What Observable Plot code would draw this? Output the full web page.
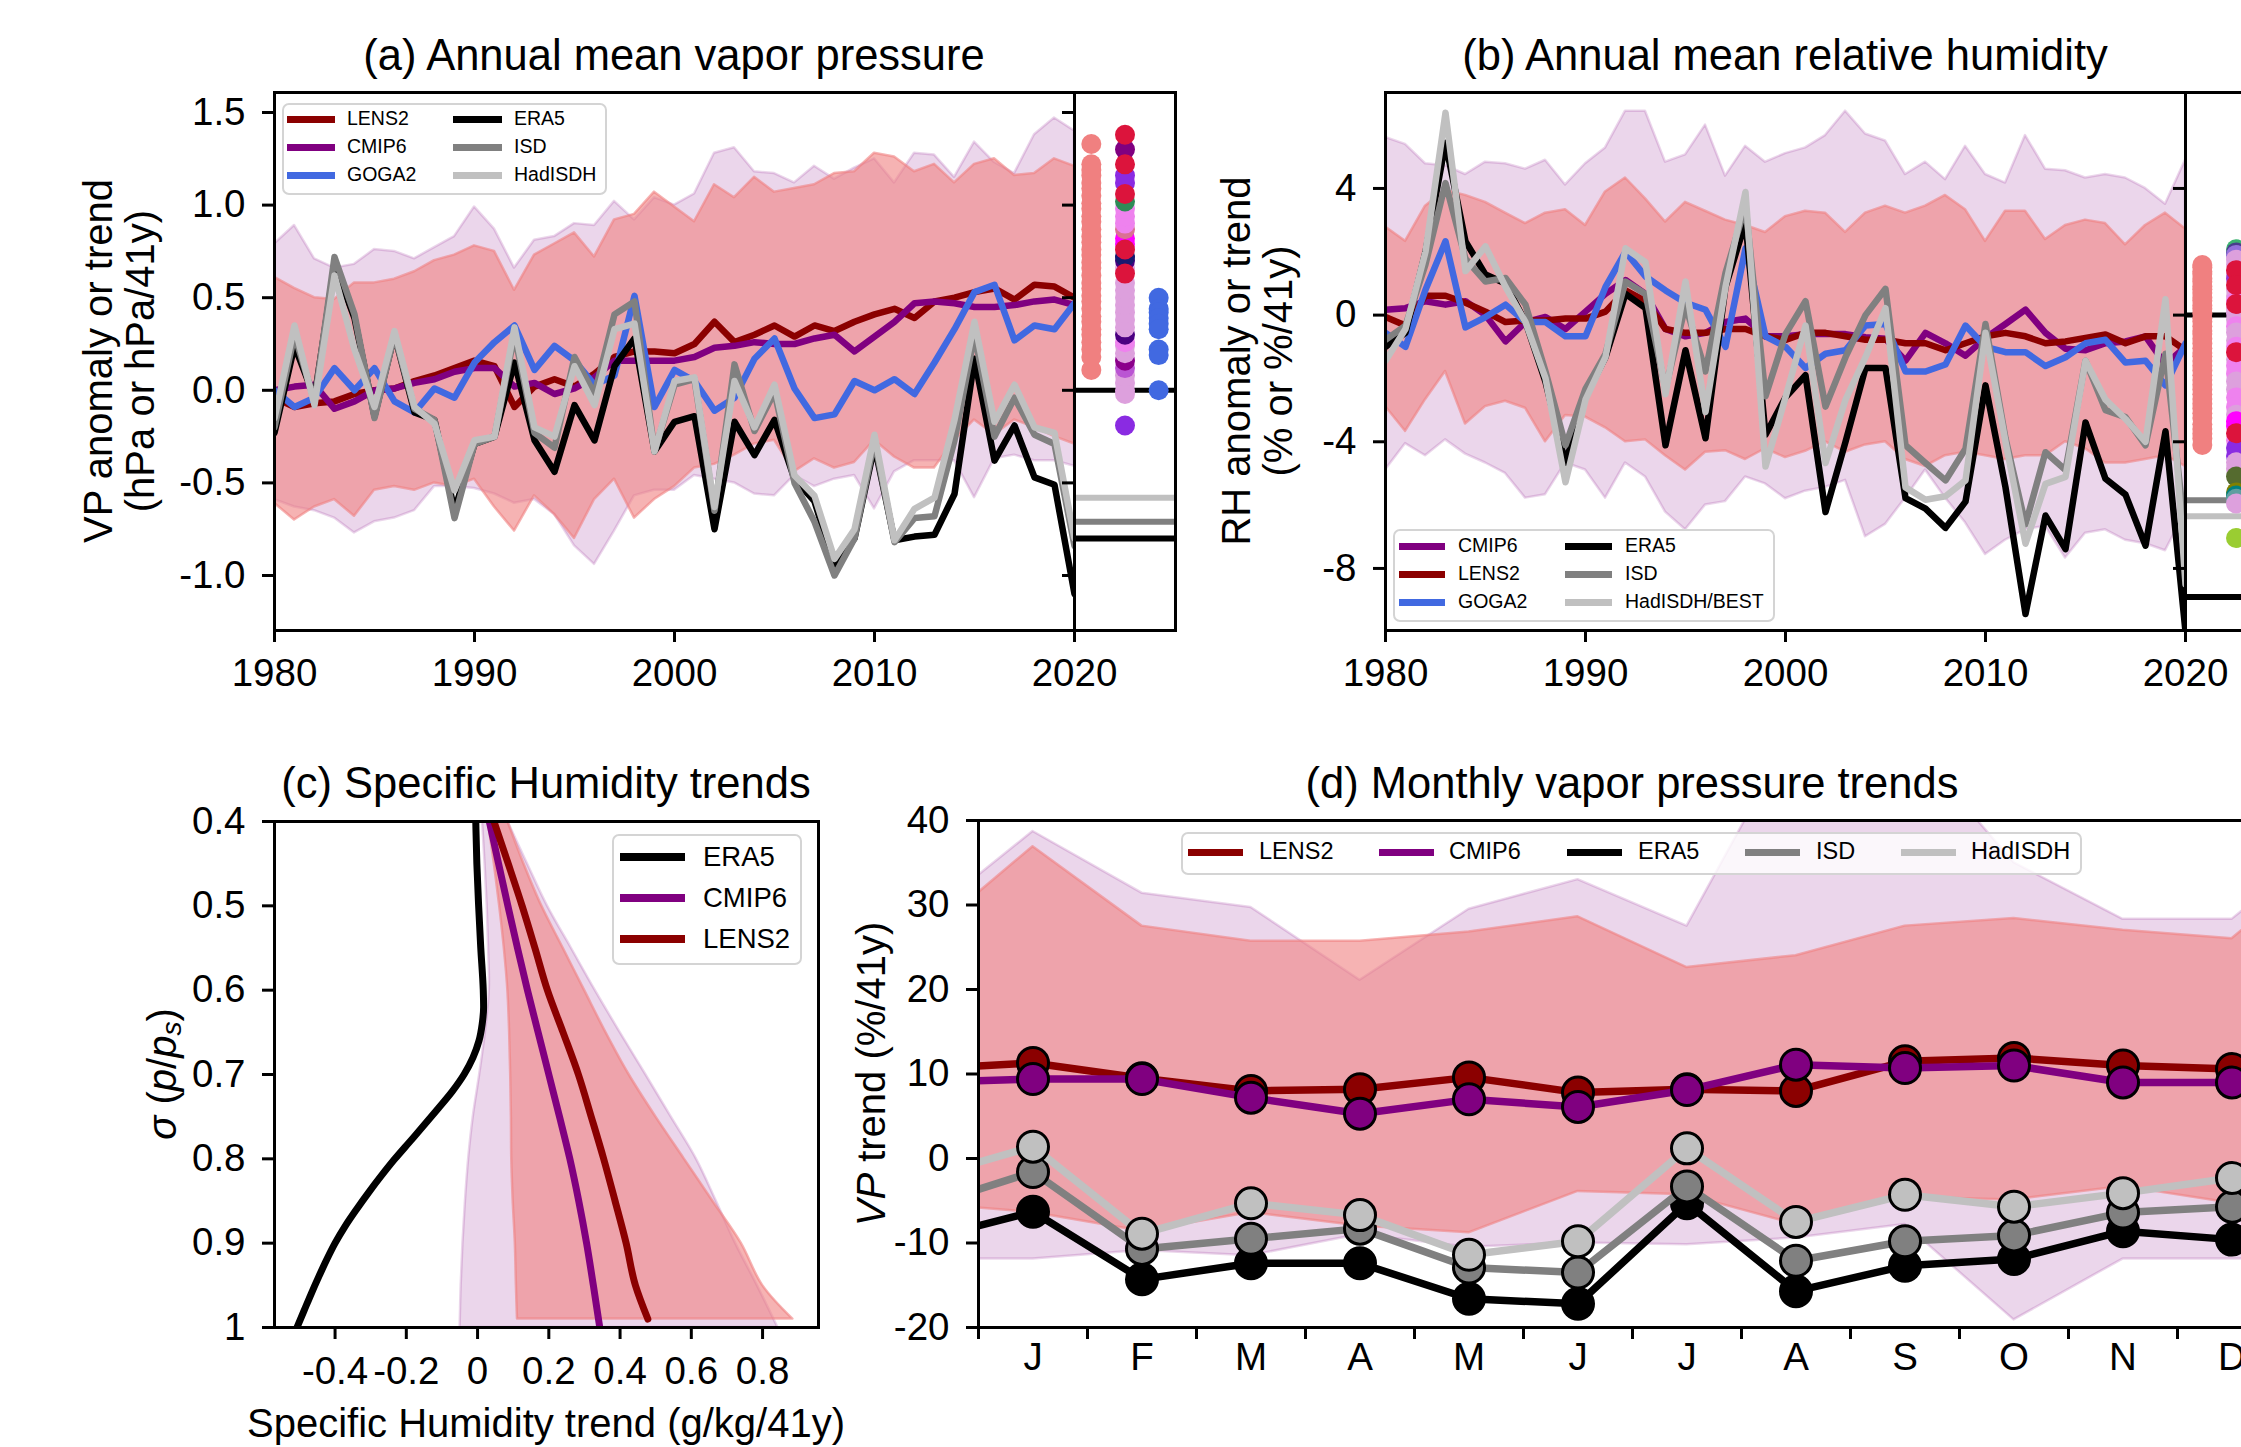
<!DOCTYPE html>
<html><head><meta charset="utf-8">
<script src="https://cdn.jsdelivr.net/npm/d3@7"></script>
<script src="https://cdn.jsdelivr.net/npm/@observablehq/plot@0.6"></script>
<style>
html,body{margin:0;padding:0;background:#fff;}
body{width:2241px;height:1447px;overflow:hidden;position:relative;font-family:"Liberation Sans",Arial,sans-serif;color:#000;}
.t{position:absolute;white-space:nowrap;line-height:1;}
.lg{position:absolute;box-sizing:border-box;border:2px solid #d4d4d4;border-radius:7px;background:rgba(255,255,255,0.8);}
.lg div{position:absolute;}
.lg span{position:absolute;white-space:nowrap;line-height:1;transform:translateY(-50%);}
</style></head><body>
<script>
// ---------------- DATA ----------------
const years = d3.range(1980, 2021);

// (a) annual mean vapor pressure anomaly (hPa)
const a_LENS2 = [-0.04,-0.09,-0.07,-0.06,-0.02,0.00,0.01,0.05,0.08,0.12,0.16,0.13,-0.09,0.02,0.06,0.02,0.09,0.18,0.21,0.21,0.20,0.25,0.37,0.26,0.30,0.35,0.29,0.35,0.32,0.37,0.41,0.44,0.39,0.48,0.50,0.53,0.55,0.49,0.57,0.56,0.50];
const a_CMIP6 = [0.00,0.02,0.03,-0.10,-0.06,0.00,0.01,0.04,0.06,0.10,0.12,0.12,0.02,0.04,-0.02,0.01,0.07,0.16,0.16,0.16,0.16,0.18,0.23,0.24,0.26,0.25,0.25,0.28,0.30,0.21,0.29,0.37,0.47,0.48,0.47,0.45,0.45,0.46,0.48,0.49,0.46];
const a_GOGA2 = [0.00,-0.09,-0.04,0.12,0.00,0.12,-0.06,-0.12,0.01,-0.04,0.15,0.26,0.35,0.11,0.24,0.16,0.03,0.08,0.51,-0.09,0.11,0.05,-0.11,-0.04,0.17,0.28,0.01,-0.15,-0.13,0.05,0.00,0.06,-0.02,0.15,0.33,0.53,0.57,0.27,0.35,0.33,0.47];
const a_ERA5 = [-0.23,0.24,-0.04,0.68,0.39,-0.14,0.30,-0.12,-0.16,-0.65,-0.29,-0.25,0.15,-0.27,-0.44,-0.08,-0.27,0.13,0.28,-0.33,-0.17,-0.14,-0.75,-0.17,-0.35,-0.16,-0.48,-0.60,-0.95,-0.80,-0.30,-0.81,-0.79,-0.78,-0.56,0.17,-0.38,-0.19,-0.47,-0.51,-1.10];
const a_ISD = [-0.20,0.30,-0.06,0.72,0.41,-0.15,0.30,-0.10,-0.16,-0.69,-0.29,-0.25,0.30,-0.23,-0.31,0.18,-0.02,0.41,0.48,-0.33,0.03,0.06,-0.65,0.14,-0.22,-0.01,-0.50,-0.71,-1.00,-0.80,-0.27,-0.82,-0.69,-0.68,-0.27,0.30,-0.25,-0.04,-0.24,-0.29,-0.84];
const a_HadISDH = [-0.15,0.35,-0.08,0.62,0.22,-0.09,0.32,-0.09,-0.18,-0.54,-0.27,-0.25,0.34,-0.20,-0.25,0.13,-0.08,0.33,0.36,-0.33,0.05,0.07,-0.63,0.05,-0.20,0.03,-0.46,-0.57,-0.91,-0.75,-0.24,-0.81,-0.64,-0.58,-0.16,0.37,-0.17,0.03,-0.20,-0.23,-0.80];
const a_LENS2_hi = [0.61,0.55,0.50,0.49,0.58,0.58,0.60,0.64,0.70,0.73,0.78,0.75,0.54,0.73,0.79,0.85,0.72,0.92,0.95,1.07,0.99,0.91,1.11,1.04,1.15,1.07,1.09,1.11,1.17,1.18,1.28,1.26,1.18,1.22,1.12,1.22,1.25,1.16,1.17,1.25,1.21];
const a_LENS2_lo = [-0.61,-0.70,-0.63,-0.59,-0.68,-0.54,-0.52,-0.54,-0.50,-0.52,-0.48,-0.63,-0.76,-0.57,-0.67,-0.80,-0.59,-0.48,-0.69,-0.59,-0.52,-0.42,-0.40,-0.35,-0.29,-0.27,-0.44,-0.37,-0.42,-0.39,-0.27,-0.36,-0.42,-0.42,-0.27,-0.16,-0.24,-0.16,-0.20,-0.25,-0.29];
const a_CMIP6_hi = [0.79,0.89,0.71,0.66,0.68,0.76,0.75,0.71,0.77,0.83,0.99,0.87,0.66,0.81,0.83,0.90,0.89,1.02,0.92,1.04,1.00,1.06,1.28,1.31,1.18,1.17,1.12,1.21,1.14,1.20,1.25,1.12,1.28,1.27,1.15,1.34,1.23,1.17,1.38,1.47,1.40];
const a_CMIP6_lo = [-0.59,-0.63,-0.65,-0.69,-0.77,-0.71,-0.69,-0.65,-0.52,-0.52,-0.53,-0.56,-0.61,-0.59,-0.67,-0.84,-0.94,-0.76,-0.57,-0.54,-0.54,-0.46,-0.48,-0.50,-0.56,-0.57,-0.46,-0.52,-0.48,-0.46,-0.64,-0.44,-0.38,-0.38,-0.38,-0.58,-0.37,-0.35,-0.38,-0.38,-0.41];
// (a) inset: trends (hPa/41y)
const aIn_LENS2 = [1.33,1.22,1.19,1.16,1.12,1.09,1.05,1.01,0.98,0.94,0.91,0.87,0.83,0.80,0.76,0.73,0.69,0.66,0.62,0.58,0.55,0.51,0.48,0.44,0.40,0.37,0.33,0.30,0.26,0.22,0.18,0.11];
const aIn_CMIP6 = [0.04,0.00,-0.02,0.08,0.12,0.16,0.20,0.24,0.26,0.30,0.34,0.38,0.42,0.46,0.50,0.54,0.58,0.66,0.70,0.72,0.79,0.82,0.87,0.90,0.94,0.98,1.02,1.12,1.16,1.30,-0.19,0.63,0.76,1.06,1.22,1.38];
const aIn_CMIP6_col = ["#dda0dd","#dda0dd","#dda0dd","#dda0dd","#ba55d3","#8b008b","#dda0dd","#dda0dd","#ee82ee","#4b0082","#dda0dd","#dda0dd","#dda0dd","#dda0dd","#dda0dd","#dda0dd","#dda0dd","#dda0dd","#4b0082","#191970","#ff00ff","#ff00ff","#db7093","#ee82ee","#ee82ee","#ee82ee","#2e8b57","#8a2be2","#8a2be2","#800080","#8a2be2","#dc143c","#dc143c","#dc143c","#dc143c","#dc143c"];
const aIn_GOGA2 = [0.50,0.44,0.42,0.39,0.36,0.33,0.22,0.19,0.00];
const aIn_obs = {ERA5: -0.80, ISD: -0.71, HadISDH: -0.58};

// (b) annual mean relative humidity anomaly (%)
const b_CMIP6 = [0.17,0.22,0.44,0.33,0.44,0.00,-0.83,-0.22,-0.06,-0.44,0.11,0.67,1.11,0.67,-0.44,-0.67,-0.56,-0.22,-0.11,-0.67,-0.67,-0.60,-0.60,-0.60,-0.70,-0.75,-1.44,-0.56,-0.89,-1.28,-0.72,-0.28,0.17,-0.56,-1.06,-1.11,-0.89,-0.83,-0.67,-1.56,-1.00];
const b_LENS2 = [-0.06,-0.33,0.61,0.61,0.39,0.11,-0.22,-0.17,-0.17,-0.11,-0.11,0.11,0.78,0.44,-0.44,-0.56,-0.56,-0.44,-0.44,-0.67,-0.78,-0.56,-0.56,-0.67,-0.78,-0.78,-0.89,-0.89,-1.11,-0.89,-0.67,-0.56,-0.67,-0.89,-0.83,-0.72,-0.61,-0.89,-0.67,-0.67,-1.11];
const b_GOGA2 = [-0.56,-1.00,0.80,2.33,-0.39,-0.06,0.33,-0.22,-0.22,-0.67,-0.67,0.89,2.00,1.22,0.78,0.39,0.17,-1.00,2.11,-0.67,-1.00,-1.67,-1.22,-1.11,-0.33,-0.28,-1.78,-1.78,-1.56,-0.33,-1.00,-1.17,-1.17,-1.61,-1.33,-0.89,-0.78,-1.50,-1.44,-2.22,-0.89];
const b_ERA5 = [-1.00,-0.56,2.00,5.44,2.33,1.28,1.00,-0.22,-2.11,-4.67,-2.56,-1.33,0.67,0.22,-4.11,-1.11,-3.89,0.89,2.94,-3.78,-2.60,-1.90,-6.22,-4.00,-1.67,-1.67,-5.78,-6.11,-6.72,-5.89,-2.22,-5.44,-9.44,-6.33,-7.39,-3.39,-5.17,-5.67,-7.28,-3.67,-10.00];
const b_ISD = [-0.78,-0.33,1.60,4.17,1.78,1.06,1.17,0.33,-1.78,-4.11,-2.33,-1.22,1.06,0.67,-2.33,0.30,-1.78,1.33,3.44,-2.56,-0.60,0.44,-2.89,-1.33,0.00,0.83,-4.11,-4.67,-5.22,-4.22,-0.28,-3.89,-6.61,-4.33,-4.89,-1.44,-3.00,-3.22,-4.11,-1.22,-7.00];
const b_HadISDH = [-1.44,-0.44,2.00,6.39,1.39,2.17,0.89,-0.22,-2.00,-5.28,-2.67,-1.33,2.11,1.67,-2.50,1.06,-3.06,0.89,3.89,-4.78,-2.60,-0.33,-4.67,-2.67,-1.33,0.22,-5.44,-5.83,-5.72,-5.22,-0.56,-4.00,-7.22,-5.33,-5.11,-1.44,-2.67,-3.28,-4.00,0.50,-8.50];
const b_LENS2_hi = [2.78,2.33,3.44,3.94,3.78,3.56,3.22,2.89,3.22,3.33,2.83,3.89,4.33,3.67,2.94,3.56,3.28,3.00,2.83,2.61,3.11,3.28,3.22,2.61,3.22,3.44,3.22,3.44,3.78,3.33,2.33,3.28,3.28,2.39,2.83,3.00,2.89,2.22,2.83,3.22,2.72];
const b_LENS2_lo = [-2.89,-3.67,-2.67,-1.78,-3.44,-2.89,-2.72,-2.94,-4.00,-3.17,-3.22,-3.56,-4.00,-3.94,-4.44,-4.89,-4.33,-4.28,-4.56,-4.22,-4.50,-4.30,-4.00,-4.33,-4.10,-4.00,-4.56,-4.78,-4.44,-4.33,-4.44,-4.56,-4.44,-4.44,-4.00,-4.22,-4.67,-4.67,-4.56,-4.44,-4.78];
const b_CMIP6_hi = [5.61,5.39,4.78,4.72,4.44,4.83,4.78,4.61,4.89,4.11,4.78,5.28,6.44,6.44,4.83,5.06,6.00,4.39,5.33,4.83,5.10,5.28,5.67,6.44,5.72,5.50,4.44,4.83,4.28,5.33,4.44,4.17,5.67,4.61,4.56,4.33,4.44,4.33,4.00,3.50,4.89];
const b_CMIP6_lo = [-4.89,-4.06,-4.44,-3.94,-4.39,-4.67,-5.00,-5.78,-5.67,-4.67,-4.89,-5.78,-4.67,-5.11,-6.22,-6.78,-6.00,-5.89,-5.11,-5.33,-5.80,-5.56,-5.44,-5.22,-7.00,-6.61,-5.78,-4.89,-5.78,-6.56,-7.56,-7.11,-6.78,-6.67,-7.67,-6.89,-6.78,-7.11,-7.22,-7.44,-6.22];
// (b) inset: trends (%/41y)
const bIn_LENS2 = [1.58,1.50,1.38,1.30,1.15,1.05,0.90,0.82,0.70,0.55,0.45,0.30,0.20,0.05,-0.10,-0.20,-0.35,-0.50,-0.60,-0.75,-0.90,-1.05,-1.20,-1.30,-1.45,-1.60,-1.75,-1.90,-2.05,-2.20,-2.35,-2.50,-2.65,-2.80,-2.95,-3.10,-3.25,-3.45,-3.60,-3.75,-3.90,-4.10];
const bIn_CMIP6 = [2.08,1.98,1.90,1.75,1.60,1.30,1.15,0.80,0.60,0.45,0.20,0.05,-0.15,-0.35,-0.55,-0.80,-1.00,-1.40,-1.60,-1.85,-2.10,-2.35,-2.60,-2.90,-3.15,-3.35,-3.50,-3.95,-4.20,-4.45,-4.65,-4.85,-5.10,-5.60,-5.70,-5.80,-5.95,-7.04,1.42,0.95,0.35,-1.17,-3.73];
const bIn_CMIP6_col = ["#3cb371","#483d8b","#9370db","#dda0dd","#dda0dd","#dda0dd","#9932cc","#dda0dd","#dda0dd","#ee82ee","#dda0dd","#dda0dd","#dda0dd","#ee82ee","#dda0dd","#dda0dd","#ee82ee","#dda0dd","#ee82ee","#ee82ee","#dda0dd","#dda0dd","#ee82ee","#ee82ee","#dda0dd","#ff00ff","#ff00ff","#ee82ee","#8a2be2","#8a2be2","#dda0dd","#dda0dd","#556b2f","#808000","#008080","#5f9ea0","#dda0dd","#9acd32","#dc143c","#dc143c","#dc143c","#dc143c","#dc143c"];
const bIn_obs = {ERA5: -8.90, ISD: -5.85, HadISDH: -6.35};

// (c) specific humidity trend profiles (g/kg/41y) vs sigma
const c_sigE = [0.40,0.45,0.50,0.55,0.60,0.62,0.64,0.66,0.68,0.70,0.72,0.74,0.76,0.78,0.80,0.82,0.84,0.86,0.88,0.90,0.92,0.94,0.96,0.98,1.00];
const c_ERA5 = [-0.005,-0.002,0.003,0.009,0.016,0.017,0.013,0.004,-0.013,-0.038,-0.071,-0.110,-0.150,-0.191,-0.232,-0.270,-0.306,-0.340,-0.372,-0.400,-0.424,-0.446,-0.467,-0.487,-0.507];
const c_sig = [0.40,0.45,0.50,0.55,0.60,0.65,0.70,0.75,0.80,0.85,0.90,0.95,1.00];
const c_CMIP6 = [0.033,0.059,0.085,0.112,0.140,0.170,0.200,0.230,0.259,0.284,0.306,0.325,0.343];
const c_CMIP6_lo = [0.014,0.021,0.027,0.031,0.033,0.022,0.006,-0.012,-0.025,-0.034,-0.041,-0.046,-0.049];
const c_CMIP6_hi = [0.085,0.140,0.196,0.263,0.330,0.400,0.472,0.543,0.614,0.670,0.724,0.785,0.843];
const c_sigL = [0.40,0.45,0.50,0.55,0.60,0.65,0.70,0.75,0.80,0.85,0.90,0.95,0.99];
const c_LENS2 = [0.046,0.086,0.125,0.161,0.196,0.240,0.283,0.319,0.354,0.386,0.417,0.443,0.478];
const c_LENS2_lo = [0.030,0.047,0.062,0.075,0.085,0.090,0.093,0.095,0.096,0.100,0.106,0.109,0.112];
const c_LENS2_hi = [0.085,0.130,0.180,0.240,0.300,0.360,0.425,0.500,0.580,0.660,0.740,0.800,0.885];

// (d) monthly vapor pressure trends (%/41y)
const months = ["J","F","M","A","M","J","J","A","S","O","N","D"];
const d_LENS2 = [11.3,9.5,8.0,8.2,9.6,7.8,8.2,8.0,11.5,11.9,11.0,10.6];
const d_CMIP6 = [9.4,9.4,7.2,5.3,7.0,6.1,8.1,11.1,10.7,11.0,9.0,9.0];
const d_ERA5 = [-6.3,-14.3,-12.4,-12.4,-16.6,-17.2,-5.3,-15.7,-12.7,-11.9,-8.6,-9.6];
const d_ISD = [-1.6,-10.7,-9.5,-8.3,-12.9,-13.5,-3.3,-12.1,-9.8,-9.1,-6.4,-5.7];
const d_HadISDH = [1.4,-8.9,-5.3,-6.7,-11.4,-9.8,1.2,-7.5,-4.3,-5.7,-4.1,-2.3];
const d_LENS2_hi = [36.9,27.5,25.7,25.7,26.8,28.6,22.6,24.0,27.5,28.4,27.0,26.0];
const d_LENS2_lo = [-6.4,-8.6,-6.4,-8.0,-8.8,-3.9,-4.3,-7.8,-4.6,-4.9,-3.3,-5.3];
const d_CMIP6_hi = [38.7,31.4,29.7,21.1,29.5,33.0,27.5,51.0,50.0,35.0,28.3,28.3];
const d_CMIP6_lo = [-11.9,-10.9,-11.5,-9.0,-10.5,-10.0,-10.2,-9.4,-7.8,-19.1,-11.9,-11.9];

// ---------------- STYLE ----------------
const FONT = '"Liberation Sans", Arial, sans-serif';
const COL = {LENS2:"#8b0000", CMIP6:"#800080", GOGA2:"#4169e1", ERA5:"#000000", ISD:"#808080", HadISDH:"#c0c0c0", bandL:"#f08080", bandC:"#800080"};
const TICKFS = 38.5;

function mount(svg){
  svg.style.position = "absolute"; svg.style.left = "0px"; svg.style.top = "0px";
  svg.style.background = "transparent"; svg.style.overflow = "visible"; svg.style.maxWidth = "none";
  svg.style.fontFamily = FONT; svg.style.fontSize = TICKFS + "px"; svg.style.color = "#000";
  document.body.appendChild(svg);
}
function bandY(xs, lo, hi, color, op){ return Plot.areaY(xs, {x: xs, y1: lo, y2: hi, fill: color, fillOpacity: op, stroke: color, strokeOpacity: op, strokeWidth: 2.5, clip: true}); }
function lineXY(xs, ys, color, w){ return Plot.line(xs, {x: xs, y: ys, stroke: color, strokeWidth: w, clip: true}); }
const frame = () => Plot.frame({stroke: "#000", strokeWidth: 3});
const fmt1 = d => d.toFixed(1);

function txt(html, cx, cy, fs, rot, lh){
  const d = document.createElement("div"); d.className = "t"; d.innerHTML = html;
  d.style.left = cx + "px"; d.style.top = cy + "px"; d.style.fontSize = fs + "px";
  if (lh) { d.style.lineHeight = lh + "px"; d.style.textAlign = "center"; }
  d.style.transform = "translate(-50%,-50%)" + (rot ? " rotate(-90deg)" : "");
  document.body.appendChild(d);
}
function legend(box, items, fs, lw){
  const b = document.createElement("div"); b.className = "lg";
  Object.assign(b.style, {left: box[0]+"px", top: box[1]+"px", width: box[2]+"px", height: box[3]+"px"});
  const ox = box[0] + 2, oy = box[1] + 2;
  for (const it of items){
    const h = document.createElement("div");
    Object.assign(h.style, {left: (it.h1-ox)+"px", width: (it.h2-it.h1)+"px", top: (it.cy-oy-lw/2)+"px", height: lw+"px", background: it.color});
    b.appendChild(h);
    const s = document.createElement("span"); s.textContent = it.label;
    Object.assign(s.style, {left: (it.tx-ox)+"px", top: (it.cy-oy)+"px", fontSize: fs+"px"});
    b.appendChild(s);
  }
  document.body.appendChild(b);
}

// ---------------- PANEL (a) ----------------
const A = {L:274, R:1074, IR:1175, T:92, B:630};
const aY = [-1.297, 1.608];
mount(Plot.plot({
  width: A.R, height: A.B + 80, marginLeft: A.L, marginRight: 0, marginTop: A.T, marginBottom: 80,
  x: {domain: [1980, 2020], axis: null}, y: {domain: aY, axis: null},
  marks: [
    bandY(years, a_CMIP6_lo, a_CMIP6_hi, COL.bandC, 0.16),
    bandY(years, a_LENS2_lo, a_LENS2_hi, COL.bandL, 0.6),
    lineXY(years, a_LENS2, COL.LENS2, 6.5),
    lineXY(years, a_CMIP6, COL.CMIP6, 6.5),
    lineXY(years, a_GOGA2, COL.GOGA2, 6.5),
    lineXY(years, a_ERA5, COL.ERA5, 6.5),
    lineXY(years, a_ISD, COL.ISD, 6.5),
    lineXY(years, a_HadISDH, COL.HadISDH, 6.5),
    frame(),
    Plot.axisX({anchor: "bottom", ticks: [1980,1990,2000,2010,2020], tickFormat: d => String(d), tickSize: 12, tickPadding: 16, strokeWidth: 3, fontSize: TICKFS, label: null}),
    Plot.axisY({anchor: "left", ticks: [1.5,1.0,0.5,0.0,-0.5,-1.0], tickFormat: fmt1, tickSize: 12, tickPadding: 17, strokeWidth: 3, fontSize: TICKFS, label: null})
  ]
}));
mount(Plot.plot({
  width: A.IR, height: A.B + 10, marginLeft: A.R, marginRight: 0, marginTop: A.T, marginBottom: 10,
  x: {domain: [0, 3], axis: null}, y: {domain: aY, axis: null}, color: {type: "identity"},
  marks: [
    Plot.ruleY([0], {stroke: "#000", strokeWidth: 5}),
    Plot.ruleY([aIn_obs.HadISDH], {stroke: COL.HadISDH, strokeWidth: 6}),
    Plot.ruleY([aIn_obs.ISD], {stroke: COL.ISD, strokeWidth: 6}),
    Plot.ruleY([aIn_obs.ERA5], {stroke: COL.ERA5, strokeWidth: 6}),
    Plot.dot(aIn_LENS2, {x: aIn_LENS2.map(() => 0.5), y: aIn_LENS2, r: 10, fill: COL.bandL}),
    Plot.dot(aIn_CMIP6, {x: aIn_CMIP6.map(() => 1.5), y: aIn_CMIP6, r: 10, fill: aIn_CMIP6_col}),
    Plot.dot(aIn_GOGA2, {x: aIn_GOGA2.map(() => 2.5), y: aIn_GOGA2, r: 10, fill: COL.GOGA2}),
    frame(),
    Plot.axisY({anchor: "left", ticks: [1.5,1.0,0.5,0.0,-0.5,-1.0], tickFormat: () => "", tickSize: 12, strokeWidth: 3, label: null})
  ]
}));

// ---------------- PANEL (b) ----------------
const B = {L:1385, R:2185, IR:2286, T:92, B:630};
const bY = [-9.96, 7.03];
mount(Plot.plot({
  width: B.R, height: B.B + 80, marginLeft: B.L, marginRight: 0, marginTop: B.T, marginBottom: 80,
  x: {domain: [1980, 2020], axis: null}, y: {domain: bY, axis: null},
  marks: [
    bandY(years, b_CMIP6_lo, b_CMIP6_hi, COL.bandC, 0.16),
    bandY(years, b_LENS2_lo, b_LENS2_hi, COL.bandL, 0.6),
    lineXY(years, b_CMIP6, COL.CMIP6, 6.5),
    lineXY(years, b_LENS2, COL.LENS2, 6.5),
    lineXY(years, b_GOGA2, COL.GOGA2, 6.5),
    lineXY(years, b_ERA5, COL.ERA5, 6.5),
    lineXY(years, b_ISD, COL.ISD, 6.5),
    lineXY(years, b_HadISDH, COL.HadISDH, 6.5),
    frame(),
    Plot.axisX({anchor: "bottom", ticks: [1980,1990,2000,2010,2020], tickFormat: d => String(d), tickSize: 12, tickPadding: 16, strokeWidth: 3, fontSize: TICKFS, label: null}),
    Plot.axisY({anchor: "left", ticks: [4,0,-4,-8], tickFormat: d => String(d), tickSize: 12, tickPadding: 17, strokeWidth: 3, fontSize: TICKFS, label: null})
  ]
}));
mount(Plot.plot({
  width: B.IR, height: B.B + 10, marginLeft: B.R, marginRight: 0, marginTop: B.T, marginBottom: 10,
  x: {domain: [0, 3], axis: null}, y: {domain: bY, axis: null}, color: {type: "identity"},
  marks: [
    Plot.ruleY([0], {stroke: "#000", strokeWidth: 5}),
    Plot.ruleY([bIn_obs.ISD], {stroke: COL.ISD, strokeWidth: 6}),
    Plot.ruleY([bIn_obs.HadISDH], {stroke: COL.HadISDH, strokeWidth: 6}),
    Plot.ruleY([bIn_obs.ERA5], {stroke: COL.ERA5, strokeWidth: 6}),
    Plot.dot(bIn_LENS2, {x: bIn_LENS2.map(() => 0.5), y: bIn_LENS2, r: 10, fill: COL.bandL}),
    Plot.dot(bIn_CMIP6, {x: bIn_CMIP6.map(() => 1.5), y: bIn_CMIP6, r: 10, fill: bIn_CMIP6_col}),
    frame(),
    Plot.axisY({anchor: "left", ticks: [4,0,-4,-8], tickFormat: () => "", tickSize: 12, strokeWidth: 3, label: null})
  ]
}));

// ---------------- PANEL (c) ----------------
const Cc = {L:274, R:818, T:821, B:1327};
mount(Plot.plot({
  width: Cc.R, height: Cc.B + 80, marginLeft: Cc.L, marginRight: 0, marginTop: Cc.T, marginBottom: 80,
  x: {domain: [-0.57, 0.957], axis: null}, y: {domain: [0.4, 1], reverse: true, axis: null},
  marks: [
    Plot.areaX(c_sig, {y: c_sig, x1: c_CMIP6_lo, x2: c_CMIP6_hi, fill: COL.bandC, fillOpacity: 0.16, stroke: COL.bandC, strokeOpacity: 0.16, strokeWidth: 2.5, curve: "catmull-rom", clip: true}),
    Plot.areaX(c_sigL, {y: c_sigL, x1: c_LENS2_lo, x2: c_LENS2_hi, fill: COL.bandL, fillOpacity: 0.6, stroke: COL.bandL, strokeOpacity: 0.6, strokeWidth: 2.5, curve: "catmull-rom", clip: true}),
    Plot.line(c_sigE, {x: c_ERA5, y: c_sigE, stroke: COL.ERA5, strokeWidth: 7, curve: "monotone-y", clip: true}),
    Plot.line(c_sig, {x: c_CMIP6, y: c_sig, stroke: COL.CMIP6, strokeWidth: 7, curve: "monotone-y", clip: true}),
    Plot.line(c_sigL, {x: c_LENS2, y: c_sigL, stroke: COL.LENS2, strokeWidth: 7, curve: "monotone-y", clip: true}),
    frame(),
    Plot.axisX({anchor: "bottom", ticks: [-0.4,-0.2,0,0.2,0.4,0.6,0.8], tickFormat: d => Math.abs(d) < 1e-9 ? "0" : d.toFixed(1), tickSize: 12, tickPadding: 17, strokeWidth: 3, fontSize: TICKFS, label: null}),
    Plot.axisY({anchor: "left", ticks: [0.4,0.5,0.6,0.7,0.8,0.9,1], tickFormat: d => d === 1 ? "1" : d.toFixed(1), tickSize: 12, tickPadding: 17, strokeWidth: 3, fontSize: TICKFS, label: null})
  ]
}));

// ---------------- PANEL (d) ----------------
const D = {L:978, R:2286, T:820, B:1327};
const mIdx = d3.range(12);
const mExt = [-1, ...mIdx, 12];
const cyc = v => [v[11], ...v, v[0]];
const dots = (vals, fill) => Plot.dot(mIdx, {x: mIdx, y: vals, r: 15.5, fill, stroke: "#000", strokeWidth: 3});
mount(Plot.plot({
  width: D.R, height: D.B + 80, marginLeft: D.L, marginRight: 0, marginTop: D.T, marginBottom: 80,
  x: {domain: [-0.5, 11.5], axis: null}, y: {domain: [-20, 40], axis: null},
  marks: [
    bandY(mExt, cyc(d_CMIP6_lo), cyc(d_CMIP6_hi), COL.bandC, 0.16),
    bandY(mExt, cyc(d_LENS2_lo), cyc(d_LENS2_hi), COL.bandL, 0.6),
    lineXY(mExt, cyc(d_LENS2), COL.LENS2, 7.5), dots(d_LENS2, COL.LENS2),
    lineXY(mExt, cyc(d_CMIP6), COL.CMIP6, 7.5), dots(d_CMIP6, COL.CMIP6),
    lineXY(mExt, cyc(d_ERA5), COL.ERA5, 7.5), dots(d_ERA5, COL.ERA5),
    lineXY(mExt, cyc(d_ISD), COL.ISD, 7.5), dots(d_ISD, COL.ISD),
    lineXY(mExt, cyc(d_HadISDH), COL.HadISDH, 7.5), dots(d_HadISDH, COL.HadISDH),
    frame(),
    Plot.axisX({anchor: "bottom", ticks: d3.range(-0.5, 12, 1), tickFormat: () => "", tickSize: 12, strokeWidth: 3, label: null}),
    Plot.axisX({anchor: "bottom", ticks: mIdx, tickFormat: i => months[i], tickSize: 0, tickPadding: 15, fontSize: TICKFS, label: null}),
    Plot.axisY({anchor: "left", ticks: [40,30,20,10,0,-10,-20], tickFormat: d => String(d), tickSize: 12, tickPadding: 17, strokeWidth: 3, fontSize: TICKFS, label: null})
  ]
}));

// ---------------- TEXT ----------------
const TFS = 43.5, LFS = 40;
txt("(a) Annual mean vapor pressure", 674, 56, TFS);
txt("(b) Annual mean relative humidity", 1785, 56, TFS);
txt("(c) Specific Humidity trends", 546, 784, TFS);
txt("(d) Monthly vapor pressure trends", 1632, 784, TFS);
txt("VP anomaly or trend<br>(hPa or hPa/41y)", 119, 361, LFS, true, 42);
txt("RH anomaly or trend<br>(% or %/41y)", 1257, 361, LFS, true, 42);
txt('<i>σ</i> (<i>p</i>/<i>p<sub style="font-size:0.7em;vertical-align:-0.2em">s</sub></i>)', 164, 1074, LFS, true);
txt('<i>VP</i> trend (%/41y)', 871, 1074, LFS, true);
txt("Specific Humidity trend (g/kg/41y)", 546, 1423, LFS);

// ---------------- LEGENDS ----------------
const aRows = [119,147,175];
legend([282,103,325,92], [
  {label:"LENS2", color:COL.LENS2, h1:287, h2:335, tx:347, cy:aRows[0]},
  {label:"CMIP6", color:COL.CMIP6, h1:287, h2:335, tx:347, cy:aRows[1]},
  {label:"GOGA2", color:COL.GOGA2, h1:287, h2:335, tx:347, cy:aRows[2]},
  {label:"ERA5", color:COL.ERA5, h1:453, h2:502, tx:514, cy:aRows[0]},
  {label:"ISD", color:COL.ISD, h1:453, h2:502, tx:514, cy:aRows[1]},
  {label:"HadISDH", color:COL.HadISDH, h1:453, h2:502, tx:514, cy:aRows[2]}
], 19.5, 7);
const bRows = [546,574,602];
legend([1393,529,382,93], [
  {label:"CMIP6", color:COL.CMIP6, h1:1399, h2:1445, tx:1458, cy:bRows[0]},
  {label:"LENS2", color:COL.LENS2, h1:1399, h2:1445, tx:1458, cy:bRows[1]},
  {label:"GOGA2", color:COL.GOGA2, h1:1399, h2:1445, tx:1458, cy:bRows[2]},
  {label:"ERA5", color:COL.ERA5, h1:1565, h2:1612, tx:1625, cy:bRows[0]},
  {label:"ISD", color:COL.ISD, h1:1565, h2:1612, tx:1625, cy:bRows[1]},
  {label:"HadISDH/BEST", color:COL.HadISDH, h1:1565, h2:1612, tx:1625, cy:bRows[2]}
], 19.5, 7);
legend([612,834,190,131], [
  {label:"ERA5", color:COL.ERA5, h1:620, h2:685, tx:703, cy:857},
  {label:"CMIP6", color:COL.CMIP6, h1:620, h2:685, tx:703, cy:898},
  {label:"LENS2", color:COL.LENS2, h1:620, h2:685, tx:703, cy:939}
], 27.5, 8);
legend([1181,832,901,43], [
  {label:"LENS2", color:COL.LENS2, h1:1188, h2:1243, tx:1259, cy:852},
  {label:"CMIP6", color:COL.CMIP6, h1:1379, h2:1434, tx:1449, cy:852},
  {label:"ERA5", color:COL.ERA5, h1:1567, h2:1622, tx:1638, cy:852},
  {label:"ISD", color:COL.ISD, h1:1745, h2:1800, tx:1816, cy:852},
  {label:"HadISDH", color:COL.HadISDH, h1:1901, h2:1956, tx:1971, cy:852}
], 23.5, 7);
</script></body></html>
